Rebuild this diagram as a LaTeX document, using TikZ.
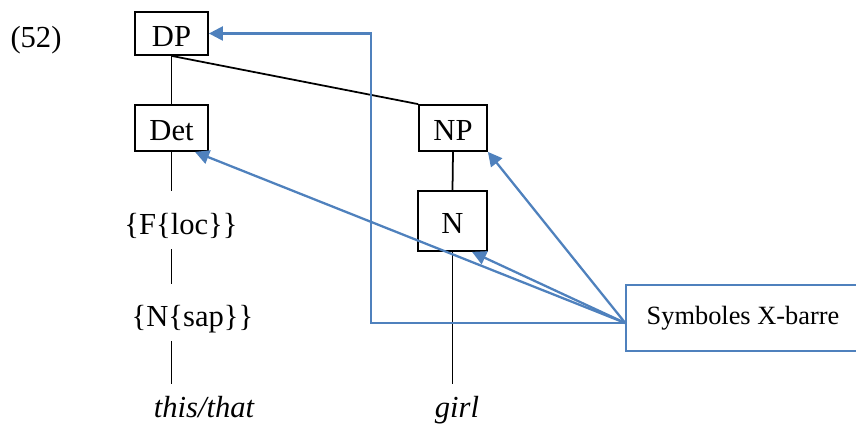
\documentclass[tikz,border=0pt]{standalone}
\usepackage{fontspec}
\setmainfont{Liberation Serif}
\usetikzlibrary{arrows.meta, calc}
\definecolor{xbarblue}{RGB}{79,129,189}
\newcommand{\treefont}{\fontsize{17.4pt}{21pt}\selectfont}

\begin{document}
\begin{tikzpicture}[
  every node/.style={font=\treefont},
  box/.style={draw=black, line width=1pt, inner sep=0pt, text height=14.8pt, text depth=0pt},
  feat/.style={inner sep=0pt, anchor=base},
  branch/.style={draw=black, line width=1pt},
  link/.style={draw=xbarblue, line width=1.3pt, -{Triangle[length=8pt, width=8pt]}}]
  \useasboundingbox (0, 0) rectangle (17.12, -8.5);
  \node (num) at (0.72, -0.80) {(52)};
  \node[box, minimum width=1.46cm, minimum height=0.86cm] (dp) at (3.43, -0.67) {DP};
  \node[box, minimum width=1.46cm, minimum height=0.92cm] (det) at (3.43, -2.56) {Det};
  \node[box, minimum width=1.36cm, minimum height=0.92cm] (np) at (9.06, -2.56) {NP};
  \node[box, minimum width=1.38cm, minimum height=1.20cm] (n) at (9.05, -4.42) {N};
  \node[feat] (floc) at (3.62, -4.70) {\{F\{loc\}\}};
  \node[feat] (nsap) at (3.85, -6.54) {\{N\{sap\}\}};
  \node[feat, font=\treefont\itshape] (this) at (4.08, -8.36) {this/that};
  \node[feat, font=\treefont\itshape] (girl) at (9.14, -8.36) {girl};
  \node[draw=xbarblue, line width=0.85pt, minimum width=4.68cm, minimum height=1.32cm,
    font=\fontsize{15pt}{18pt}\selectfont] (sym) at (14.86, -6.36) {Symboles X-barre};
  \draw[branch] (dp.south) -- (det.north);
  \draw[branch] (dp.south) -- (np.north west);
  \draw[branch] (np.south) -- (n.north);
  \draw[branch, shorten >=0.44cm] (det.south) -- (det.south |- floc.north);
  \draw[branch, shorten <=0.2cm, shorten >=0.42cm] (det.south |- floc.south) -- (det.south |- nsap.north);
  \draw[branch, shorten <=0.14cm, shorten >=0.24cm] (det.south |- nsap.south) -- (det.south |- this.north);
  \draw[branch, shorten >=0.24cm] (n.south) -- (n.south |- girl.north);
  \coordinate (hub) at ($(sym.west)+(0,-0.1)$);
  \draw[link] (hub) -| ($(dp.east)+(3.24,0)$) -- (dp.east);
  \draw[link] (hub) -- ($(det.south)+(0.47,0)$);
  \draw[link] (hub) -- (np.south east);
  \draw[link] (hub) -- ($(n.south)+(0.39,0)$);
\end{tikzpicture}
\end{document}
